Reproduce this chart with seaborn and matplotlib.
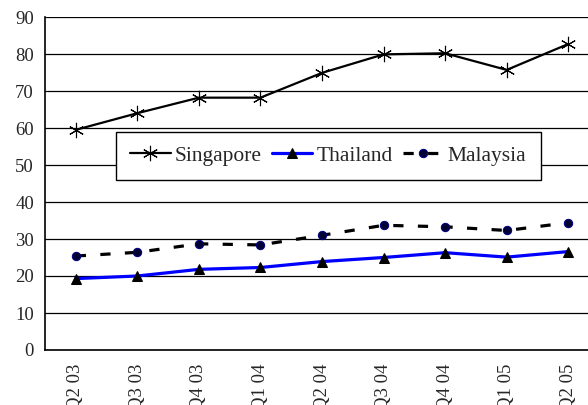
import numpy as np
import pandas as pd
import matplotlib
matplotlib.use("Agg")
import matplotlib.pyplot as plt
import seaborn as sns

# data
quarters = ["Q2 03", "Q3 03", "Q4 03", "Q1 04", "Q2 04", "Q3 04", "Q4 04", "Q1 05", "Q2 05"]
singapore = [59.5, 64.0, 68.2, 68.2, 74.9, 79.9, 80.2, 75.7, 82.7]
thailand = [19.3, 20.0, 21.8, 22.3, 23.9, 25.0, 26.3, 25.1, 26.6]
malaysia = [25.4, 26.4, 28.7, 28.4, 31.0, 33.7, 33.3, 32.3, 34.4]

sns.set_style("white")
plt.rcParams["font.family"] = ["Liberation Serif", "DejaVu Serif"]

pos = np.arange(len(quarters))
df = pd.DataFrame({"pos": pos, "Singapore": singapore,
                   "Thailand": thailand, "Malaysia": malaysia})

fig = plt.figure(figsize=(5.88, 4.05), dpi=100)
ax = fig.add_axes([45 / 588, 55 / 405, 554 / 588, 333 / 405])

sns.lineplot(data=df, x="pos", y="Singapore", ax=ax, color="black", lw=1.6,
             marker=(6, 2, 0), markersize=11, markeredgewidth=0.8,
             markeredgecolor="black", label="Singapore")
sns.lineplot(data=df, x="pos", y="Thailand", ax=ax, color="#0000ff", lw=2.3,
             marker="^", markersize=6.5, markerfacecolor="black",
             markeredgecolor="black", label="Thailand")
sns.lineplot(data=df, x="pos", y="Malaysia", ax=ax, color="black", lw=2.3,
             dashes=(3.2, 4.5), marker="o", markersize=6,
             markerfacecolor="#000033", markeredgecolor="#000080",
             label="Malaysia")

ax.set_xlim(-0.5, len(quarters) - 0.5)
ax.set_ylim(0, 90)
ax.set_yticks(np.arange(0, 91, 10))
ax.yaxis.grid(True, color="black", lw=0.9)
ax.set_axisbelow(True)

# ticks between categories, labels centered on categories
ax.set_xticks(np.arange(-0.5, len(quarters), 1.0))
ax.set_xticklabels([])
ax.set_xticks(pos, minor=True)
ax.set_xticklabels(quarters, minor=True, rotation=90, fontsize=13.5)
ax.tick_params(axis="x", which="minor", length=0, pad=10)
ax.tick_params(axis="x", which="major", length=5, width=1, color="black", direction="out")
ax.tick_params(axis="y", length=5, width=1, color="black", direction="out",
               labelsize=13.5, pad=3)
ax.set_xlabel("")
ax.set_ylabel("")

for side in ["top", "right"]:
    ax.spines[side].set_visible(False)
for side in ["left", "bottom"]:
    ax.spines[side].set_color("black")
    ax.spines[side].set_linewidth(1.2)

leg = ax.legend(loc="center", bbox_to_anchor=(0.511, 0.584), ncol=3,
                fontsize=15.5, frameon=True, fancybox=False, handlelength=1.9,
                handletextpad=0.2, columnspacing=0.45, borderpad=0.65,
                borderaxespad=0)
leg.get_frame().set_edgecolor("black")
leg.get_frame().set_linewidth(1.0)
leg.get_frame().set_alpha(1)

fig.savefig("out.png", dpi=100)
